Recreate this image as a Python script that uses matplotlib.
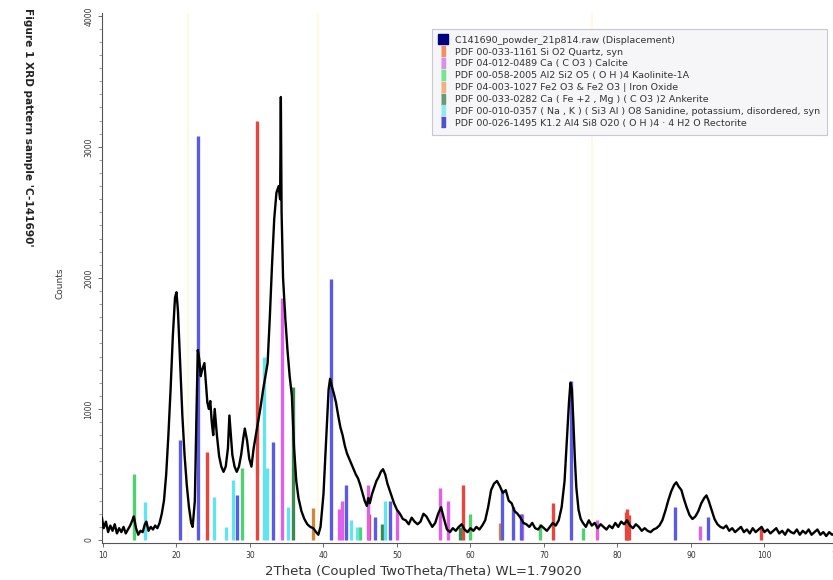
import numpy as np
import matplotlib
matplotlib.use('Agg')
import matplotlib.pyplot as plt
from matplotlib.lines import Line2D
from matplotlib.ticker import MultipleLocator

# izmereni difraktogram (2theta [deg], odbroji)
tt = [9.85, 10.1, 10.4, 10.7, 11.0, 11.3, 11.6, 11.9, 12.2, 12.5, 12.8, 13.1, 13.4, 13.7,
      14.0, 14.2, 14.5, 14.8, 15.1, 15.4, 15.7, 15.9, 16.2, 16.5, 16.8, 17.1, 17.4, 17.7,
      18.0, 18.3, 18.6, 18.9, 19.2, 19.5, 19.8, 20.0, 20.2, 20.5, 20.8, 21.1, 21.4, 21.7,
      22.0, 22.2, 22.5, 22.7, 22.9, 23.1, 23.3, 23.5, 23.8, 24.0, 24.2, 24.4, 24.6, 24.8,
      25.0, 25.2, 25.5, 25.8, 26.1, 26.4, 26.7, 27.0, 27.2, 27.4, 27.6, 27.9, 28.2, 28.5,
      28.8, 29.1, 29.3, 29.6, 29.9, 30.2, 30.5, 30.8, 31.1, 31.4, 31.8, 32.1, 32.4, 32.7,
      33.0, 33.3, 33.6, 33.9, 34.1, 34.2, 34.3, 34.5, 34.8, 35.1, 35.4, 35.7, 36.0, 36.3,
      36.6, 37.0, 37.4, 37.8, 38.2, 38.6, 39.0, 39.3, 39.6, 40.0, 40.4, 40.7, 40.9, 41.1,
      41.4, 41.7, 42.0, 42.3, 42.6, 42.9, 43.2, 43.5, 43.8, 44.1, 44.4, 44.7, 45.0, 45.3,
      45.6, 45.9, 46.1, 46.3, 46.6, 46.9, 47.2, 47.5, 47.8, 48.1, 48.4, 48.7, 49.0, 49.3,
      49.6, 50.0, 50.4, 50.8, 51.2, 51.6, 52.0, 52.4, 52.8, 53.2, 53.6, 54.0, 54.4, 54.8,
      55.2, 55.6, 56.0, 56.4, 56.8, 57.2, 57.6, 58.0, 58.4, 58.8, 59.2, 59.6, 60.0, 60.4,
      60.8, 61.2, 61.6, 62.0, 62.4, 62.8, 63.2, 63.6, 64.0, 64.4, 64.8, 65.2, 65.6, 66.0,
      66.4, 66.8, 67.2, 67.6, 68.0, 68.4, 68.8, 69.2, 69.6, 70.0, 70.4, 70.8, 71.2, 71.6,
      72.0, 72.4, 72.8, 73.1, 73.4, 73.6, 73.8, 74.0, 74.2, 74.4, 74.7, 75.0, 75.3, 75.7,
      76.1, 76.5, 76.9, 77.3, 77.7, 78.1, 78.5, 78.9, 79.3, 79.7, 80.1, 80.5, 80.9, 81.3,
      81.7, 82.1, 82.5, 82.9, 83.3, 83.7, 84.1, 84.5, 84.9, 85.3, 85.7, 86.1, 86.5, 86.9,
      87.3, 87.7, 88.0, 88.3, 88.7, 89.0, 89.4, 89.8, 90.2, 90.6, 91.0, 91.4, 91.8, 92.1,
      92.4, 92.8, 93.2, 93.6, 94.0, 94.4, 94.8, 95.2, 95.6, 96.0, 96.4, 96.8, 97.2, 97.6,
      98.0, 98.4, 98.8, 99.2, 99.6, 100.0, 100.4, 100.8, 101.2, 101.6, 102.0, 102.4, 102.8,
      103.2, 103.6, 104.0, 104.4, 104.8, 105.2, 105.6, 106.0, 106.4, 106.8, 107.2, 107.6,
      108.0, 108.4, 108.8, 109.2, 109.6, 110.0]
counts = [170, 90, 140, 60, 110, 70, 120, 50, 90, 60, 100, 50, 80, 110,
          150, 180, 90, 40, 70, 60, 120, 140, 70, 100, 80, 110, 90, 130,
          200, 300, 500, 800, 1150, 1550, 1850, 1890, 1750, 1350, 950, 650, 420, 250,
          130, 100, 300, 900, 1450, 1380, 1250, 1300, 1350, 1200, 1050, 1000, 1060, 900,
          800, 1000, 800, 640, 560, 520, 560, 700, 950, 800, 650, 560, 520, 560,
          650, 780, 850, 760, 620, 560, 700, 800, 900, 1000, 1150, 1250, 1350, 1700,
          2100, 2450, 2650, 2700, 2600, 3380, 2500, 2000, 1700, 1450, 1250, 1100, 700, 450,
          320, 220, 160, 120, 100, 90, 60, 40, 100, 350, 800, 1150, 1230, 1180,
          1120, 1050, 950, 860, 800, 720, 660, 620, 580, 540, 500, 470, 420, 360,
          300, 260, 320, 280, 350, 400, 450, 480, 520, 540, 500, 430, 380, 330,
          280, 230, 200, 160, 150, 120, 170, 140, 120, 140, 200, 180, 140, 100,
          130, 200, 250, 160, 80, 60, 90, 70, 100, 120, 80, 60, 90, 70,
          100, 80, 110, 150, 250, 380, 430, 450, 410, 360, 380, 300, 280, 220,
          200, 170, 130, 120, 100, 130, 90, 80, 110, 90, 70, 100, 130, 110,
          150, 250, 450, 750, 1050, 1200, 1150, 900, 620, 400, 230, 160, 130, 100,
          150, 110, 130, 90, 120, 100, 80, 110, 90, 130, 100, 140, 120, 150,
          110, 90, 120, 100, 70, 90, 70, 60, 80, 90, 110, 150, 220, 300,
          370, 420, 440, 410, 380, 320, 250, 190, 160, 180, 220, 280, 320, 340,
          300, 230, 160, 120, 100, 90, 110, 70, 90, 60, 80, 100, 60, 80,
          50, 90, 60, 80, 100, 60, 80, 50, 70, 90, 50, 70, 40,
          80, 60, 50, 80, 40, 70, 50, 80, 40, 60, 80, 40,
          60, 30, 60, 40, 50, 30]

# polozaji i intenziteti referentnih linija (PDF kartice)
quartz_pos = [24.2, 30.95, 46.2, 59.0, 71.2, 81.1, 81.35, 81.6, 99.5]
quartz_int = [670, 3200, 200, 420, 280, 210, 240, 190, 90]
calcite_pos = [34.3, 42.1, 42.5, 46.05, 50.0, 55.85, 56.9, 67.0, 77.2, 91.2]
calcite_int = [1850, 240, 300, 420, 230, 400, 300, 200, 150, 110]
kaolin_pos = [14.2, 28.9, 45.0, 59.9, 69.5, 75.3]
kaolin_int = [500, 550, 100, 200, 120, 90]
iron_pos = [38.6, 64.0]
iron_int = [245, 130]
ankerite_pos = [35.9, 48.0, 58.6]
ankerite_int = [1170, 120, 100]
sanidine_pos = [15.7, 25.1, 26.7, 27.7, 31.9, 32.3, 35.2, 43.8, 44.5, 48.4]
sanidine_int = [290, 330, 100, 460, 1400, 550, 250, 150, 100, 300]
rectorite_pos = [20.5, 22.9, 28.2, 33.1, 41.0, 43.1, 47.0, 49.0, 64.3, 65.8, 66.9, 73.7, 87.8, 92.3]
rectorite_int = [765, 3080, 345, 750, 1990, 420, 175, 300, 380, 250, 200, 1210, 250, 175]
yellow_pos = [21.6, 39.2, 76.5]

labels = ['C141690_powder_21p814.raw (Displacement)',
          'PDF 00-033-1161 Si O2 Quartz, syn',
          'PDF 04-012-0489 Ca ( C O3 ) Calcite',
          'PDF 00-058-2005 Al2 Si2 O5 ( O H )4 Kaolinite-1A',
          'PDF 04-003-1027 Fe2 O3 & Fe2 O3 | Iron Oxide',
          'PDF 00-033-0282 Ca ( Fe +2 , Mg ) ( C O3 )2 Ankerite',
          'PDF 00-010-0357 ( Na , K ) ( Si3 Al ) O8 Sanidine, potassium, disordered, syn',
          'PDF 00-026-1495 K1.2 Al4 Si8 O20 ( O H )4 · 4 H2 O Rectorite']

faze = [(quartz_pos, quartz_int, '#e8463c', '#f09060'),
        (calcite_pos, calcite_int, '#e060e8', '#d890e8'),
        (kaolin_pos, kaolin_int, '#50d070', '#70e890'),
        (iron_pos, iron_int, '#c98a3e', '#f0b080'),
        (ankerite_pos, ankerite_int, '#3a8a50', '#6a9a70'),
        (sanidine_pos, sanidine_int, '#60e4f0', '#90e8f0'),
        (rectorite_pos, rectorite_int, '#5a5ae6', '#5050c8')]

fig = plt.figure(figsize=(8.33, 5.8), dpi=100)
ax = fig.add_axes([101.5/833, 1 - 543/580, (838 - 101.5)/833, 530/580])

for p in yellow_pos:
    ax.axvline(p, color='#fff9d8', lw=1.2, zorder=1)

for pos, inten, c, _ in faze:
    ax.vlines(pos, 0, inten, colors=c, lw=2.4, zorder=2)

ax.plot(tt, counts, color='black', lw=1.7, zorder=3)

ax.set_xlim(9.8, 110)
ax.set_ylim(-23, 4021)
ax.xaxis.set_major_locator(MultipleLocator(10))
ax.yaxis.set_major_locator(MultipleLocator(1000))
ax.yaxis.set_minor_locator(MultipleLocator(100))
ax.spines['top'].set_visible(False)
ax.spines['right'].set_visible(False)
for s in ['left', 'bottom']:
    ax.spines[s].set_color('#555555')
    ax.spines[s].set_linewidth(0.8)
ax.tick_params(axis='both', which='major', length=3, width=0.6, colors='#555555',
               labelsize=5.5, labelcolor='#333333', pad=3)
ax.tick_params(axis='y', which='minor', length=2, width=0.5, colors='#777777')
for lbl in ax.get_yticklabels():
    lbl.set_rotation(90)
    lbl.set_va('center')

fig.text(60/833, 1 - 283/580, 'Counts', rotation=90, ha='center', va='center',
         fontsize=6.5, color='#333333')
fig.text(423/833, 1 - 572/580, '2Theta (Coupled TwoTheta/Theta) WL=1.79020',
         ha='center', va='center', fontsize=9.5, color='#333333')
fig.text(28/833, 1 - 8/580, "Figure 1 XRD pattern sample 'C-141690'", rotation=270,
         ha='center', va='top', fontsize=7.6, fontweight='bold', color='#222222')

bar = [(-0.35, -1), (0.35, -1), (0.35, 1), (-0.35, 1)]
handles = [Line2D([], [], ls='none', marker='s', markersize=6.5,
                  markerfacecolor='#000080', markeredgecolor='#000080')]
for _, _, _, mc in faze:
    handles.append(Line2D([], [], ls='none', marker=bar, markersize=7,
                          markerfacecolor=mc, markeredgecolor=mc))

leg = ax.legend(handles, labels, loc='upper right', bbox_to_anchor=(832/833, 1 - 24/580),
                bbox_transform=fig.transFigure, fontsize=6.8, labelspacing=0.3,
                handlelength=0.8, handletextpad=0.9, borderpad=0.75, fancybox=False,
                framealpha=1, facecolor='#f6f6f9', edgecolor='#c8c8d2')
for t in leg.get_texts():
    t.set_color('#333333')
leg.get_frame().set_linewidth(0.8)

fig.savefig('out.png', dpi=100)
